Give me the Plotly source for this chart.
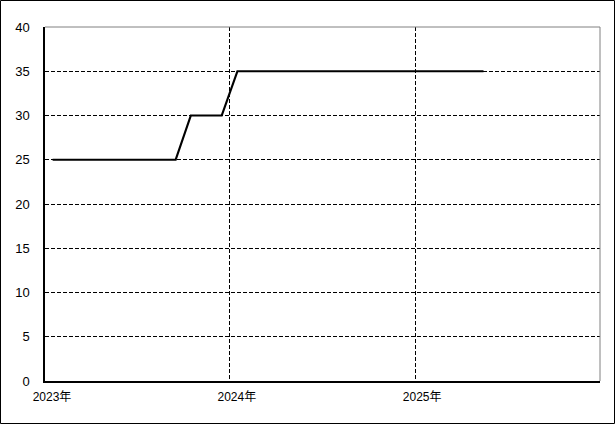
import plotly.graph_objects as go

months = ["2023-01", "2023-02", "2023-03", "2023-04", "2023-05", "2023-06",
          "2023-07", "2023-08", "2023-09", "2023-10", "2023-11", "2023-12",
          "2024-01", "2024-02", "2024-03", "2024-04", "2024-05", "2024-06",
          "2024-07", "2024-08", "2024-09", "2024-10", "2024-11", "2024-12",
          "2025-01", "2025-02", "2025-03", "2025-04", "2025-05"]
values = [25, 25, 25, 25, 25, 25, 25, 25, 25,
          30, 30, 30,
          35, 35, 35, 35, 35, 35, 35, 35, 35, 35, 35, 35,
          35, 35, 35, 35, 35]
x_tick_vals = ["2023-01-01", "2024-01-01", "2025-01-01"]
x_tick_text = ["2023年", "2024年", "2025年"]
y_tick_vals = [0, 5, 10, 15, 20, 25, 30, 35, 40]

dates = [m + "-16" for m in months]

W, H = 615, 424
ML, MR, MT, MB = 45, 15, 27, 43
PW, PH = W - ML - MR, H - MT - MB

font_family = "Liberation Sans, Arial, Noto Sans CJK JP, sans-serif"

fig = go.Figure()
fig.add_trace(go.Scatter(x=dates, y=values, mode="lines",
                         line=dict(color="black", width=2.2),
                         hoverinfo="skip", showlegend=False))

fig.update_layout(
    width=W, height=H,
    margin=dict(l=ML, r=MR, t=MT, b=MB, pad=0),
    paper_bgcolor="white", plot_bgcolor="white",
    font=dict(family=font_family, size=13, color="black"),
    showlegend=False,
)
fig.update_xaxes(
    type="date", range=["2023-01-01", "2026-01-01"],
    tickmode="array", tickvals=x_tick_vals, ticktext=x_tick_text,
    showgrid=True, gridcolor="black", gridwidth=1, griddash="4px,2px",
    showline=True, linecolor="black", linewidth=1.5,
    ticks="", ticklabelshift=7, ticklabelstandoff=4,
    zeroline=False, fixedrange=True,
    tickfont=dict(size=12),
)
fig.update_yaxes(
    range=[0, 40], tickmode="array", tickvals=y_tick_vals,
    showgrid=True, gridcolor="black", gridwidth=1, griddash="4px,2px",
    showline=True, linecolor="black", linewidth=1.5,
    ticks="", ticklabelstandoff=11,
    zeroline=False, fixedrange=True,
)

def px_x(p):
    return (p - ML) / PW

def px_y(p):
    return (H - MB - p) / PH

# grey top and right plot borders
fig.add_shape(type="line", xref="paper", yref="paper", x0=0, x1=1, y0=1, y1=1,
              line=dict(color="#808080", width=1), layer="above")
fig.add_shape(type="line", xref="paper", yref="paper", x0=1, x1=1, y0=0, y1=1,
              line=dict(color="#808080", width=1), layer="above")
# outer frame around the whole image
fig.add_shape(type="rect", xref="paper", yref="paper",
              x0=px_x(0.5), x1=px_x(W - 0.5), y0=px_y(H - 0.5), y1=px_y(0.5),
              line=dict(color="black", width=1), layer="above")

fig.write_html("out.html", config={"displayModeBar": False},
               post_script="document.body.style.margin='0';document.body.style.overflow='hidden';")
